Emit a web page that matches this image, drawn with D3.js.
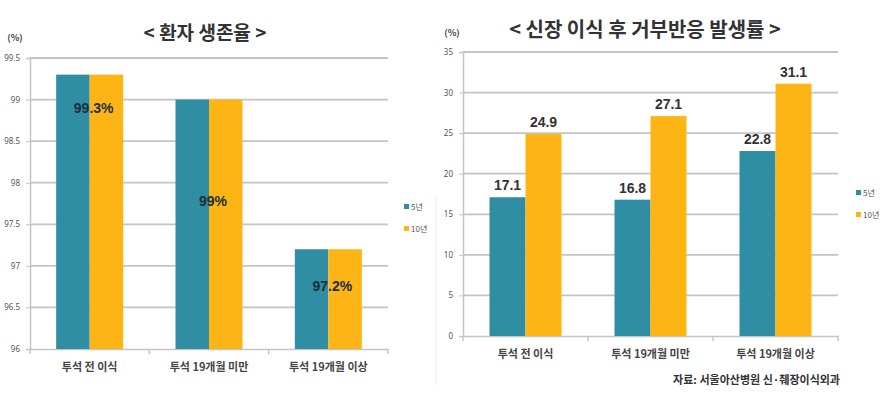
<!DOCTYPE html>
<html>
<head>
<meta charset="utf-8">
<script src="https://cdn.jsdelivr.net/npm/d3@7"></script>
<style>
  body { margin: 0; background: #fff; }
  text { font-family: "Noto Sans CJK KR", "Noto Sans", sans-serif; }
</style>
</head>
<body>
<svg id="chart" width="889" height="398"></svg>
<script>
var categories = ["투석 전 이식", "투석 19개월 미만", "투석 19개월 이상"]
var seriesNames = ["5년", "10년"]

// 환자 생존율 (%)
var survival5 = [99.3, 99.0, 97.2]
var survival10 = [99.3, 99.0, 97.2]
var survivalLabels = ["99.3%", "99%", "97.2%"]
var survivalTicks = [96, 96.5, 97, 97.5, 98, 98.5, 99, 99.5]

// 거부반응 발생률 (%)
var reject5 = [17.1, 16.8, 22.8]
var reject10 = [24.9, 27.1, 31.1]
var rejectTicks = [0, 5, 10, 15, 20, 25, 30, 35]

var colors = ["#2f8ea3", "#fdb515"]

var svg = d3.select("svg#chart")

// faint panel separator
svg.append("line").attr("x1", 436).attr("x2", 436).attr("y1", 195).attr("y2", 385)
    .attr("stroke", "#ececec").attr("stroke-width", 1)

function drawPanel(opt) {
    var g = svg.append("g")
    var x = d3.scaleBand().domain(categories).range([opt.left, opt.right])
    var y = d3.scaleLinear().domain(opt.domain).range([opt.bottom, opt.top])
    var inner = d3.scaleBand().domain(seriesNames).range([0, opt.barW * 2])

    // gridlines
    g.selectAll(".grid").data(opt.ticks.slice(1)).enter().append("line")
        .attr("x1", opt.left).attr("x2", opt.right)
        .attr("y1", d => y(d)).attr("y2", d => y(d))
        .attr("stroke", "#c4c4c4").attr("stroke-width", 1.8)

    // y axis
    var ya = g.append("g").attr("transform", "translate(" + opt.left + ",0)")
        .call(d3.axisLeft(y).tickValues(opt.ticks).tickFormat(d => String(d)).tickSize(4).tickPadding(6))
    ya.select(".domain").attr("stroke", "#c4c4c4").attr("stroke-width", 1.5)
    ya.selectAll(".tick line").attr("stroke", "#c4c4c4")
    ya.selectAll(".tick text").attr("fill", "#555").style("font-size", "8px")
        .style("font-family", "Noto Sans, sans-serif")

    // x axis
    var xa = g.append("g").attr("transform", "translate(0," + opt.bottom + ")")
        .call(d3.axisBottom(x).tickSize(0).tickPadding(14))
    xa.select(".domain").attr("stroke", "#c4c4c4").attr("stroke-width", 1.5)
    xa.selectAll(".tick text").attr("fill", "#444").style("font-size", "11px").style("font-weight", "bold")
    g.selectAll(".sep").data(categories.map(c => x(c)).concat([opt.right])).enter().append("line")
        .attr("x1", d => d).attr("x2", d => d)
        .attr("y1", opt.bottom).attr("y2", opt.bottom + 5)
        .attr("stroke", "#c4c4c4").attr("stroke-width", 1.5)

    // bars
    var series = [opt.s5, opt.s10]
    series.forEach(function(vals, si) {
        g.selectAll(".bar" + si).data(vals).enter().append("rect")
            .attr("x", (d, i) => x(categories[i]) + x.bandwidth() / 2 - opt.barW + inner(seriesNames[si]))
            .attr("y", d => y(d))
            .attr("width", opt.barW)
            .attr("height", d => opt.bottom - y(d))
            .attr("fill", colors[si])
    })

    // title
    g.append("text").attr("x", opt.titleX).attr("y", opt.titleY).attr("text-anchor", "middle")
        .attr("fill", "#333").style("font-size", opt.titleSize).style("font-weight", "bold")
        .text(opt.title)
    g.append("text").attr("x", opt.unitX).attr("y", opt.unitY).attr("text-anchor", "middle")
        .attr("fill", "#444").style("font-size", "9px").style("font-weight", "bold")
        .text("(%)")

    // legend
    seriesNames.forEach(function(s, i) {
        var ly = opt.legendY + i * 22
        g.append("rect").attr("x", opt.legendX).attr("y", ly - 3).attr("width", 5).attr("height", 5)
            .attr("fill", colors[i])
        g.append("text").attr("x", opt.legendX + 7).attr("y", ly + 3)
            .attr("fill", "#555").style("font-size", "8px").text(s)
    })
    return { g: g, x: x, y: y }
}

var left = drawPanel({
    left: 30, right: 388, top: 58, bottom: 349, domain: [96, 99.5], ticks: survivalTicks,
    barW: 33.5, s5: survival5, s10: survival10,
    title: "< 환자 생존율 >", titleX: 205, titleY: 40, titleSize: "19px",
    unitX: 15, unitY: 41, legendX: 404, legendY: 207
})

// survival value labels sit inside the bars
var labelDy = [32, 100, 36]
left.g.selectAll(".vlab").data(survival5).enter().append("text")
    .attr("x", (d, i) => left.x(categories[i]) + left.x.bandwidth() / 2 + 4)
    .attr("y", (d, i) => left.y(d) + labelDy[i] + 6)
    .attr("text-anchor", "middle").attr("fill", "#1c2f3a")
    .style("font-size", "14px").style("font-weight", "bold")
    .style("font-family", "Liberation Sans, Arial, sans-serif")
    .text((d, i) => survivalLabels[i])

var right = drawPanel({
    left: 463, right: 838, top: 52, bottom: 336, domain: [0, 35], ticks: rejectTicks,
    barW: 36, s5: reject5, s10: reject10,
    title: "< 신장 이식 후 거부반응 발생률 >", titleX: 645, titleY: 37, titleSize: "20px",
    unitX: 452, unitY: 36, legendX: 856, legendY: 193
})

;[reject5, reject10].forEach(function(vals, si) {
    right.g.selectAll(".rlab" + si).data(vals).enter().append("text")
        .attr("x", (d, i) => right.x(categories[i]) + right.x.bandwidth() / 2 + (si === 0 ? -18 : 18))
        .attr("y", d => right.y(d) - 7)
        .attr("text-anchor", "middle").attr("fill", "#333")
        .style("font-size", "14px").style("font-weight", "bold")
        .style("font-family", "Liberation Sans, Arial, sans-serif")
        .text(d => d.toFixed(1))
})

svg.append("text").attr("x", 840).attr("y", 384).attr("text-anchor", "end")
    .attr("fill", "#333").style("font-size", "11px").style("font-weight", "bold")
    .text("자료: 서울아산병원 신·췌장이식외과")
</script>
</body>
</html>
